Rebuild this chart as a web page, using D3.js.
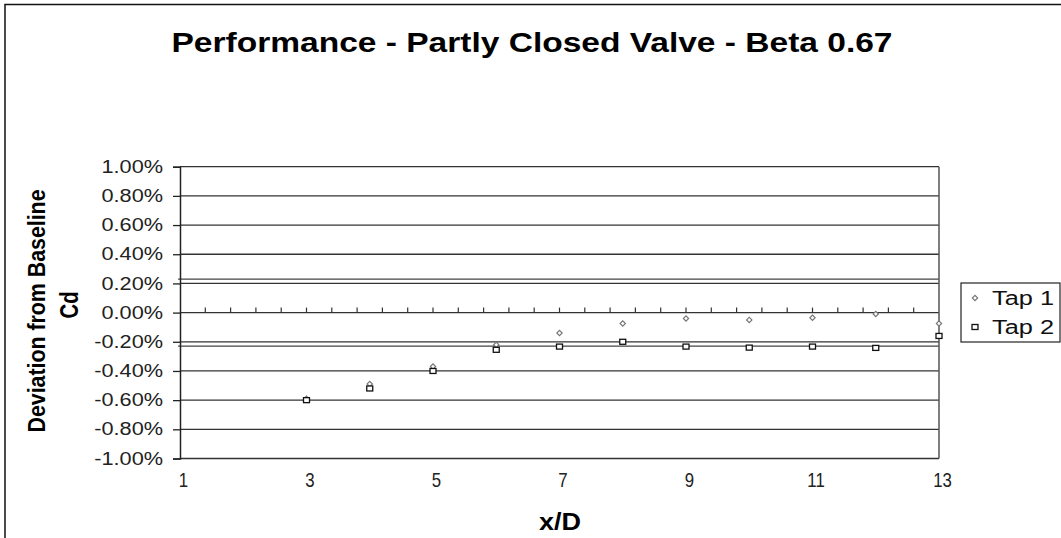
<!DOCTYPE html>
<html>
<head>
<meta charset="utf-8">
<script src="https://cdn.jsdelivr.net/npm/d3@7"></script>
<style>
    body { margin: 0; background: #fff; }
    #chart-area { width: 1061px; height: 538px; }
    text { font-family: "Liberation Sans", Arial, sans-serif; }
</style>
</head>
<body>
<div id="chart-area"></div>
<script>
// x/D positions of the pressure taps
const xPositions = [3, 4, 5, 6, 7, 8, 9, 10, 11, 12, 13];
// deviation from baseline Cd, in percent
const tap1 = [-0.59, -0.49, -0.37, -0.22, -0.14, -0.075, -0.04, -0.05, -0.035, -0.01, -0.075];
const tap2 = [-0.60, -0.52, -0.40, -0.255, -0.233, -0.20, -0.233, -0.24, -0.233, -0.242, -0.16];
// tolerance band lines
const limitX = [0.97, 13];
const limitValues = [0.23, -0.23];
// axis ticks
const yTicks = [1, 0.8, 0.6, 0.4, 0.2, 0, -0.2, -0.4, -0.6, -0.8, -1];
const xTicks = [1, 3, 5, 7, 9, 11, 13];
const seriesNames = ["Tap 1", "Tap 2"];

let margin = {top: 166.7, right: 122, bottom: 79.5, left: 180};
let width = 1061 - margin.left - margin.right;
let height = 538 - margin.top - margin.bottom;

let root = d3.select("#chart-area").append("svg")
    .attr("width", 1061)
    .attr("height", 538);

// outer chart border (runs off the right and bottom)
root.append("rect")
    .attr("x", 5).attr("y", 4.5)
    .attr("width", 1100).attr("height", 600)
    .attr("fill", "none")
    .attr("stroke", "#111")
    .attr("stroke-width", 1.5);

// title
root.append("text")
    .attr("x", 532)
    .attr("y", 52)
    .attr("text-anchor", "middle")
    .attr("font-size", 28)
    .attr("font-weight", "bold")
    .attr("textLength", 721)
    .attr("lengthAdjust", "spacingAndGlyphs")
    .attr("fill", "#000")
    .text("Performance - Partly Closed Valve - Beta 0.67");

let svg = root.append("g")
    .attr("transform", `translate(${margin.left}, ${margin.top})`);

let x = d3.scaleLinear().domain([1, 13]).range([0, width]);
let y = d3.scaleLinear().domain([-1, 1]).range([height, 0]);

// gridlines
svg.selectAll(".grid")
    .data(yTicks)
    .join("line")
    .attr("class", "grid")
    .attr("x1", 0).attr("x2", width)
    .attr("y1", d => y(d)).attr("y2", d => y(d))
    .attr("stroke", "#333")
    .attr("stroke-width", 1.3);

// tolerance lines
svg.selectAll(".limit")
    .data(limitValues)
    .join("line")
    .attr("class", "limit")
    .attr("x1", x(limitX[0])).attr("x2", x(limitX[1]))
    .attr("y1", d => y(d)).attr("y2", d => y(d))
    .attr("stroke", "#444")
    .attr("stroke-width", 1.3);

// right edge of plot
svg.append("line")
    .attr("x1", width).attr("x2", width)
    .attr("y1", 0).attr("y2", height)
    .attr("stroke", "#555")
    .attr("stroke-width", 1.5);

// y axis
let yAxis = d3.axisLeft(y)
    .tickValues(yTicks)
    .tickSize(7)
    .tickPadding(10)
    .tickFormat(d => d.toFixed(2) + "%");

let yG = svg.append("g").attr("class", "y-axis axis").call(yAxis);
yG.select(".domain").attr("stroke", "#222").attr("stroke-width", 1.5);
yG.selectAll(".tick line").attr("stroke", "#222").attr("stroke-width", 1.3);
yG.selectAll(".tick text")
    .attr("font-size", 17.5)
    .attr("fill", "#222")
    .attr("font-family", "Liberation Sans, Arial, sans-serif")
    .each(function () {
        let len = this.getComputedTextLength();
        d3.select(this).attr("textLength", len * 1.24).attr("lengthAdjust", "spacingAndGlyphs");
    });

// x axis labels at the bottom
let xAxis = d3.axisBottom(x)
    .tickValues(xTicks)
    .tickSize(0)
    .tickPadding(14)
    .tickFormat(d3.format("d"));

let xG = svg.append("g")
    .attr("class", "x-axis axis")
    .attr("transform", `translate(0, ${height})`)
    .call(xAxis);
xG.select(".domain").remove();
xG.selectAll(".tick text")
    .attr("font-size", 21)
    .attr("dx", 3)
    .attr("fill", "#222")
    .attr("font-family", "Liberation Sans, Arial, sans-serif")
    .each(function () {
        let len = this.getComputedTextLength();
        d3.select(this).attr("textLength", len * 0.8).attr("lengthAdjust", "spacingAndGlyphs");
    });

// zero axis with small upward ticks
let zeroTicks = d3.range(1.4, 12.7, 0.4);
svg.selectAll(".zero-tick")
    .data(zeroTicks)
    .join("line")
    .attr("class", "zero-tick")
    .attr("x1", d => x(d)).attr("x2", d => x(d))
    .attr("y1", y(0) - 5).attr("y2", y(0))
    .attr("stroke", "#333")
    .attr("stroke-width", 1.2);

// series markers: small square turned 45 degrees for Tap 1
let diamond = d3.symbol().type(d3.symbolSquare).size(14);

svg.selectAll(".tap1")
    .data(xPositions)
    .join("path")
    .attr("class", "tap1")
    .attr("d", diamond)
    .attr("transform", (d, i) => `translate(${x(d)}, ${y(tap1[i])}) rotate(45)`)
    .attr("fill", "#fff")
    .attr("stroke", "#777")
    .attr("stroke-width", 1.2);

svg.selectAll(".tap2")
    .data(xPositions)
    .join("rect")
    .attr("class", "tap2")
    .attr("x", d => x(d) - 3)
    .attr("y", (d, i) => y(tap2[i]) - 2.5)
    .attr("width", 6)
    .attr("height", 5)
    .attr("fill", "#fff")
    .attr("stroke", "#111")
    .attr("stroke-width", 1.3);

// axis titles
root.append("text")
    .attr("transform", "translate(45, 311) rotate(-90)")
    .attr("text-anchor", "middle")
    .attr("font-size", 24)
    .attr("font-weight", "bold")
    .attr("textLength", 243)
    .attr("lengthAdjust", "spacingAndGlyphs")
    .text("Deviation from Baseline");

root.append("text")
    .attr("transform", "translate(78, 305) rotate(-90)")
    .attr("text-anchor", "middle")
    .attr("font-size", 25)
    .attr("font-weight", "bold")
    .attr("textLength", 27)
    .attr("lengthAdjust", "spacingAndGlyphs")
    .text("Cd");

root.append("text")
    .attr("x", 560)
    .attr("y", 530)
    .attr("text-anchor", "middle")
    .attr("font-size", 24)
    .attr("font-weight", "bold")
    .attr("textLength", 42)
    .attr("lengthAdjust", "spacingAndGlyphs")
    .text("x/D");

// legend
let legend = root.append("g").attr("class", "legend");
legend.append("rect")
    .attr("x", 961).attr("y", 283)
    .attr("width", 99).attr("height", 59)
    .attr("fill", "#fff")
    .attr("stroke", "#222")
    .attr("stroke-width", 1.2);

let entries = legend.selectAll(".entry")
    .data(seriesNames)
    .join("g")
    .attr("class", "entry")
    .attr("transform", (d, i) => `translate(975, ${298 + i * 29})`);

entries.filter((d, i) => i === 0).append("path")
    .attr("d", diamond)
    .attr("transform", "rotate(45)")
    .attr("fill", "#fff")
    .attr("stroke", "#777")
    .attr("stroke-width", 1.2);

entries.filter((d, i) => i === 1).append("rect")
    .attr("x", -3).attr("y", -2.5)
    .attr("width", 6).attr("height", 5)
    .attr("fill", "#fff")
    .attr("stroke", "#111")
    .attr("stroke-width", 1.3);

entries.append("text")
    .attr("x", 17)
    .attr("y", 7)
    .attr("font-size", 20)
    .attr("textLength", 62)
    .attr("lengthAdjust", "spacingAndGlyphs")
    .attr("fill", "#111")
    .text(d => d);
</script>
</body>
</html>
